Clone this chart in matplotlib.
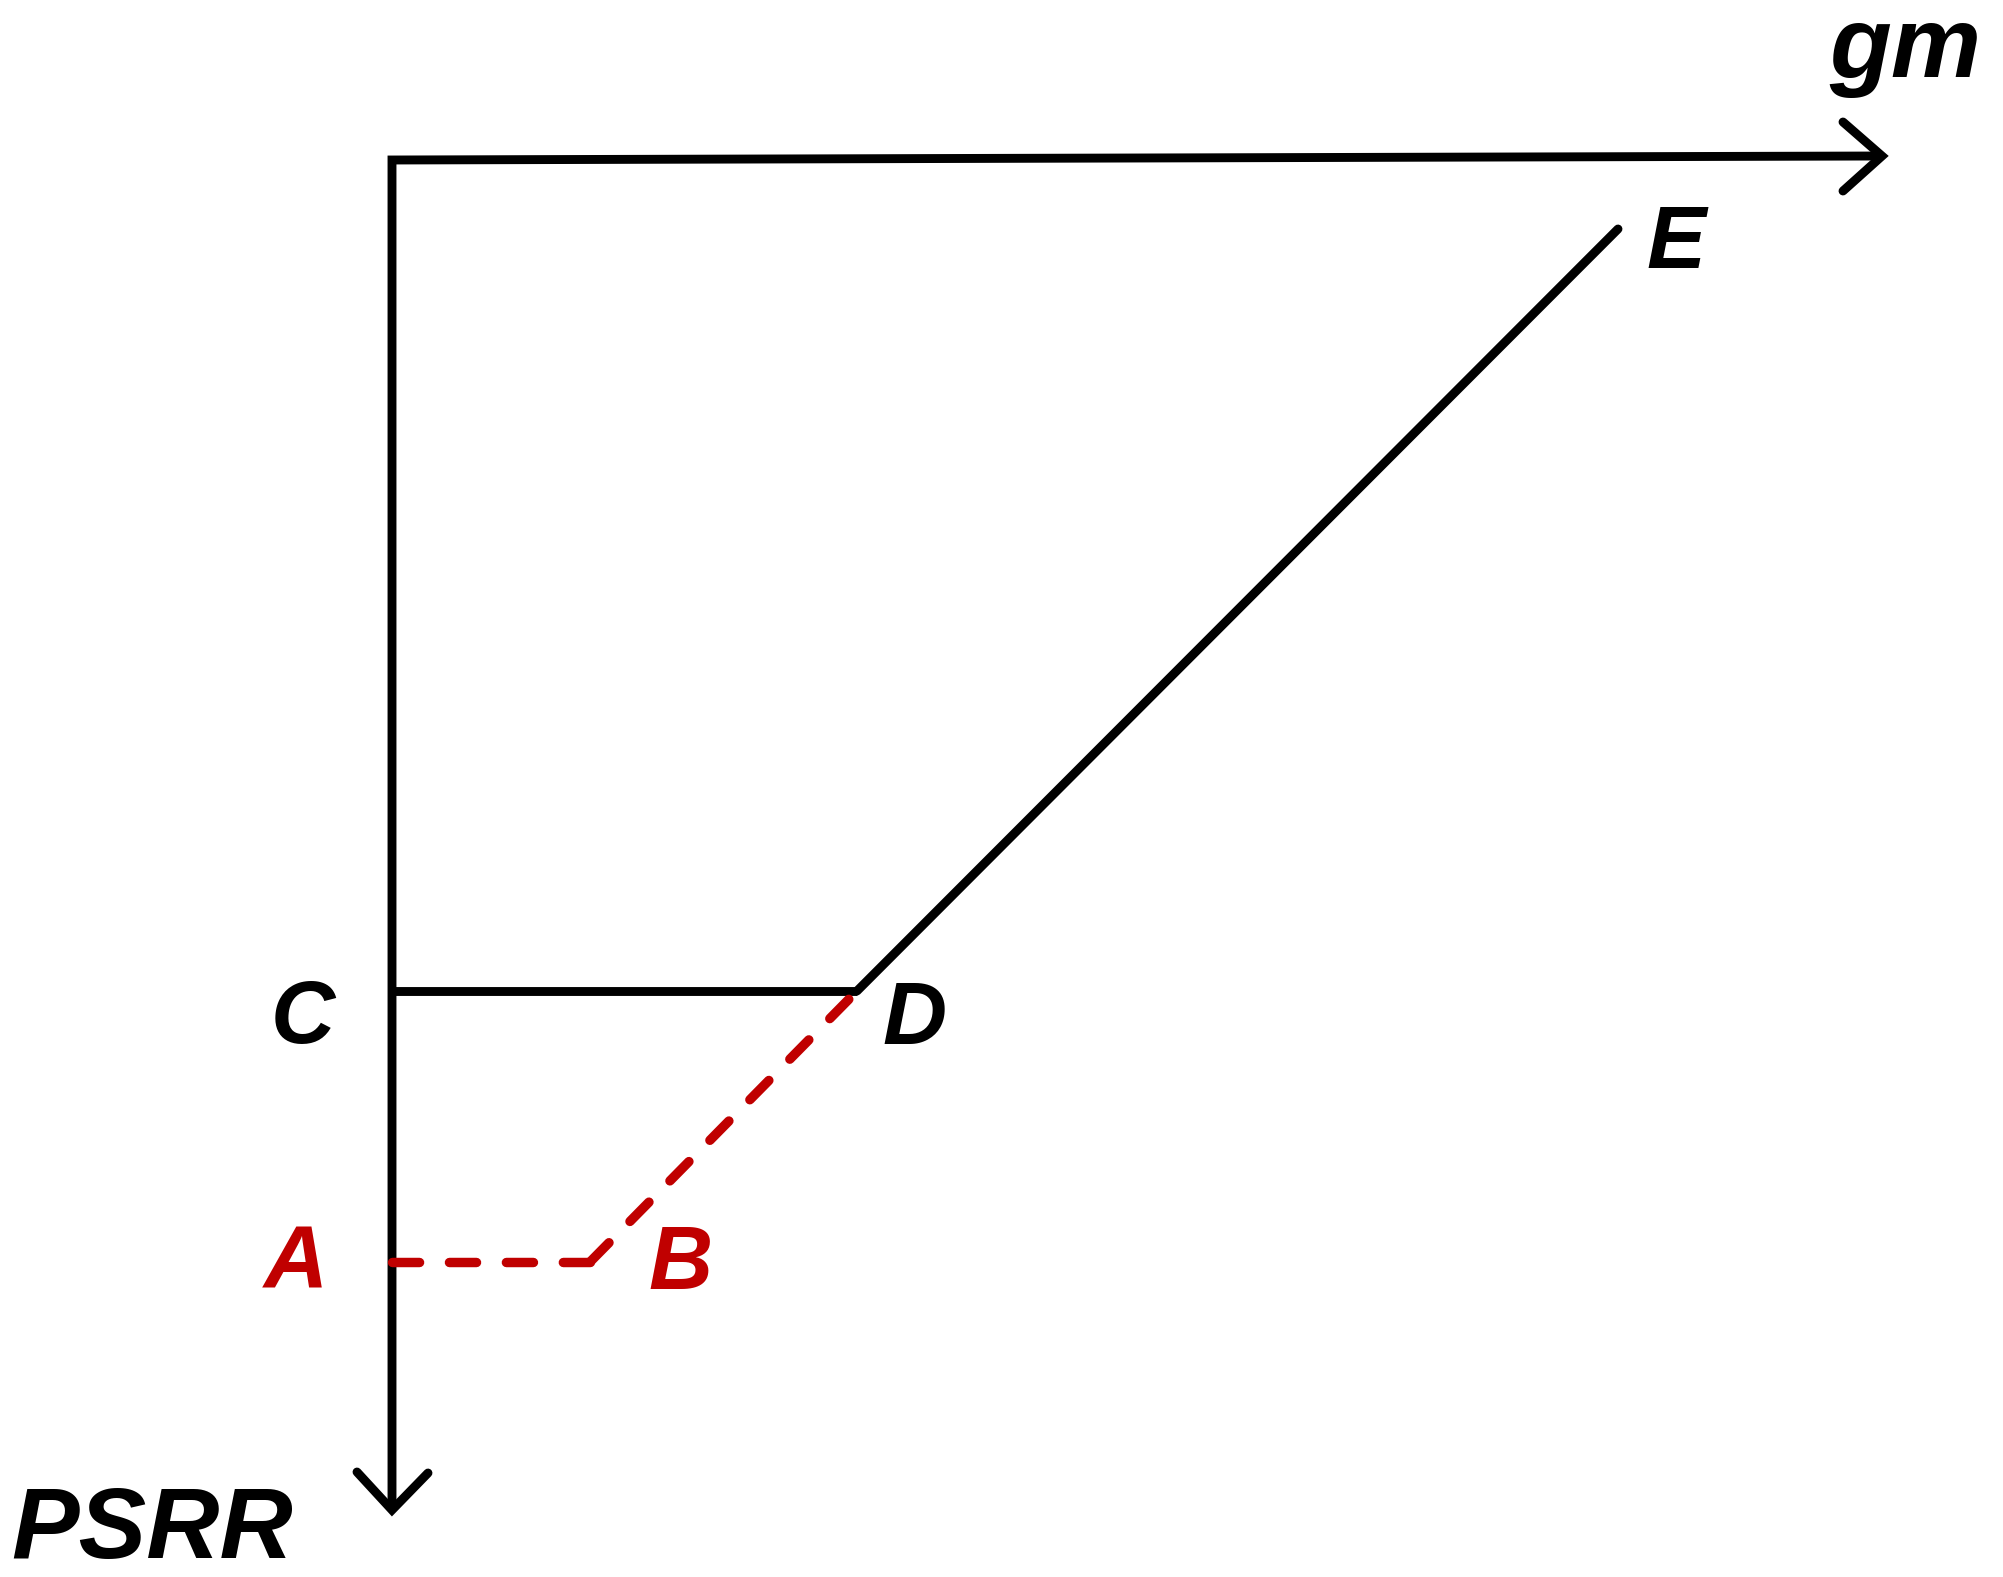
import matplotlib
matplotlib.use("Agg")
import matplotlib.pyplot as plt

plt.rcParams['lines.scale_dashes'] = False

# Diagram geometry (pixel-space coordinates of the sketch, y downward)
axes_path_x = [1882, 392, 392]
axes_path_y = [156, 160, 1510]
gm_head_x = [1843, 1882, 1843]
gm_head_y = [122, 156, 191]
psrr_head_x = [357, 392, 428]
psrr_head_y = [1472, 1510, 1473]

cd_x = [392, 857]
cd_y = [991, 991]
de_x = [857, 1618]
de_y = [991, 229]

ab_x = [392, 590]
ab_y = [1262, 1262]
bd_x = [590, 857]
bd_y = [1262, 991]

labels = ["A", "B", "C", "D", "E"]
label_x = [296, 680, 303, 915, 1676]
label_y = [1289, 1289, 1043, 1044, 268]
label_colors = ["#C00000", "#C00000", "black", "black", "black"]

axis_labels = ["gm", "PSRR"]
axis_label_x = [1905, 152]
axis_label_y = [77, 1558]

BLACK = "black"
RED = "#C00000"

fig = plt.figure(figsize=(20.03, 15.77), dpi=100)
ax = fig.add_axes([0, 0, 1, 1])
ax.set_xlim(0, 2003)
ax.set_ylim(1577, 0)
ax.axis("off")

lw = 6.4
ax.plot(axes_path_x, axes_path_y, color=BLACK, lw=lw, solid_joinstyle="miter",
        solid_capstyle="butt")
ax.plot(gm_head_x, gm_head_y, color=BLACK, lw=lw, solid_joinstyle="miter",
        solid_capstyle="round")
ax.plot(psrr_head_x, psrr_head_y, color=BLACK, lw=lw, solid_joinstyle="miter",
        solid_capstyle="round")
ax.plot(cd_x, cd_y, color=BLACK, lw=lw, solid_capstyle="butt")
ax.plot(de_x, de_y, color=BLACK, lw=lw, solid_capstyle="round")

dash = (0, (19.5, 21.5))
ax.plot(ab_x, ab_y, color=RED, lw=6.8, linestyle=dash, dash_capstyle="round", zorder=5)
ax.plot(bd_x, bd_y, color=RED, lw=6.8, linestyle=dash, dash_capstyle="round", zorder=5)

font = dict(family="Liberation Sans", weight="bold", style="italic")
for t, x, y, c in zip(labels, label_x, label_y, label_colors):
    ax.text(x, y, t, color=c, fontsize=64, ha="center", va="baseline", **font)
for t, x, y in zip(axis_labels, axis_label_x, axis_label_y):
    ax.text(x, y, t, color=BLACK, fontsize=73, ha="center", va="baseline", **font)

fig.savefig("out.png", dpi=100)
